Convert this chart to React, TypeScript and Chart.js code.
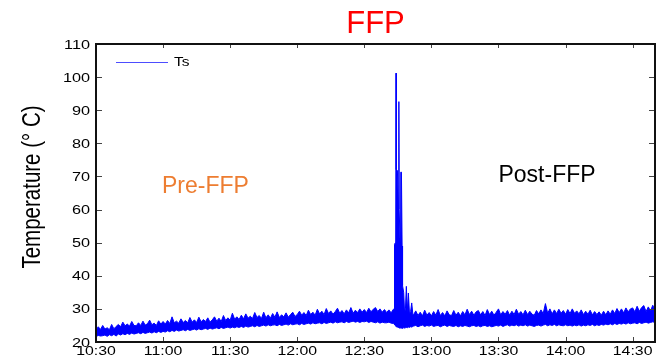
import React, { useEffect, useRef } from 'react';
import { Chart, registerables } from 'chart.js';

Chart.register(...registerables);

// Time axis: minutes since 10:30
const xTickMinutes = [0, 30, 60, 90, 120, 150, 180, 210, 240];
const xTickLabels = ['10:30', '11:00', '11:30', '12:00', '12:30', '13:00', '13:30', '14:00', '14:30'];
const yTickValues = [20, 30, 40, 50, 60, 70, 80, 90, 100, 110];

// Ts band (upper / lower envelope of the dense signal), one sample per minute, 10:30 .. 12:43
const preStartMinute = 0;
const preMax = [
  23.6, 24.6, 23.8, 25.0, 23.9, 24.3, 23.7, 25.3, 24.0, 24.7,
  25.3, 24.6, 26.0, 24.9, 25.4, 24.8, 26.2, 25.0, 24.9, 25.8,
  25.0, 26.3, 25.1, 25.5, 26.6, 25.2, 25.7, 25.0, 26.4, 25.4,
  26.2, 25.4, 26.5, 25.6, 27.6, 25.8, 26.3, 25.7, 27.0, 25.9,
  26.5, 25.8, 27.4, 26.0, 26.7, 25.9, 27.5, 26.1, 26.8, 26.2,
  27.3, 26.0, 26.7, 27.6, 26.3, 27.2, 26.2, 28.0, 26.5, 27.3,
  26.6, 28.7, 26.9, 27.6, 26.8, 28.1, 27.0, 28.5, 27.2, 27.8,
  27.1, 28.9, 27.4, 28.0, 27.1, 29.0, 27.3, 28.2, 27.2, 28.6,
  27.5, 29.1, 27.4, 28.2, 27.6, 28.8, 27.5, 28.3, 29.0, 27.7,
  28.3, 29.3, 28.1, 28.9, 28.0, 29.6, 28.3, 29.0, 28.1, 29.9,
  28.5, 29.3, 28.3, 30.1, 28.6, 29.4, 28.4, 29.2, 30.2, 28.7,
  29.5, 28.5, 29.7, 28.8, 30.4, 28.7, 29.6, 28.9, 30.0, 29.0,
  29.8, 28.9, 30.2, 29.1, 29.9, 30.4, 29.2, 30.0, 29.0, 29.8,
  28.9, 29.7, 28.8, 29.9,
];
const preMin = [
  21.6, 22.0, 21.8, 21.9, 22.1, 21.7, 22.2, 21.9, 22.3, 21.8,
  22.4, 22.1, 22.5, 22.2, 22.6, 22.3, 22.7, 22.4, 22.6, 22.8,
  22.5, 22.9, 22.6, 22.8, 23.0, 22.7, 23.1, 22.8, 23.2, 22.9,
  23.2, 23.0, 23.4, 23.1, 23.5, 23.2, 23.6, 23.3, 23.5, 23.7,
  23.4, 23.8, 23.5, 23.7, 23.9, 23.6, 24.0, 23.7, 23.9, 24.1,
  23.8, 24.2, 23.9, 24.1, 24.3, 24.0, 24.4, 24.1, 24.3, 24.5,
  24.2, 24.5, 24.3, 24.6, 24.4, 24.7, 24.4, 24.8, 24.5, 24.7,
  24.9, 24.6, 25.0, 24.7, 24.9, 25.1, 24.8, 25.2, 24.9, 25.1,
  25.2, 24.9, 25.3, 25.0, 25.2, 25.4, 25.1, 25.5, 25.2, 25.4,
  25.5, 25.2, 25.6, 25.3, 25.5, 25.7, 25.4, 25.8, 25.5, 25.7,
  25.8, 25.5, 25.9, 25.6, 25.8, 26.0, 25.7, 26.1, 25.8, 26.0,
  26.1, 25.8, 26.2, 25.9, 26.1, 26.3, 26.0, 26.2, 25.9, 26.2,
  26.1, 26.3, 25.9, 26.2, 26.0, 25.8, 26.1, 25.7, 26.0, 25.8,
  25.8, 26.0, 25.7, 25.6,
];

// FFP spike, finer sampling
const spikeMinutes = [
  133.3, 133.5, 133.9, 134.1, 134.2, 134.3, 134.8, 135.2, 135.4, 135.5,
  135.6, 136.0, 136.3, 136.6, 136.9, 137.1, 137.6, 138.0, 138.4, 138.8,
  139.2, 139.7, 140.2, 140.7, 141.2, 141.7,
];
const spikeMax = [
  30.0, 49.5, 50.0, 72.0, 101.2, 72.0, 71.8, 60.0, 72.0, 92.6,
  60.0, 50.0, 71.3, 71.3, 49.0, 37.0, 35.0, 29.0, 30.0, 36.8,
  29.0, 34.8, 28.5, 29.2, 31.8, 28.4,
];
const spikeMin = [
  25.5, 25.2, 25.0, 24.8, 24.7, 24.6, 24.5, 24.4, 24.3, 24.3,
  24.2, 24.2, 24.3, 24.2, 24.1, 24.2, 24.3, 24.2, 24.3, 24.4,
  24.3, 24.5, 24.4, 24.6, 24.5, 24.7,
];

// After FFP, one sample per minute, 12:52 .. 14:40
const postStartMinute = 142;
const postMax = [
  28.2, 29.4, 28.0, 29.0, 27.9, 29.6, 28.1, 28.9,
  27.9, 29.2, 28.1, 29.8, 28.0, 28.9, 27.9, 29.4, 28.2, 28.0,
  29.5, 28.1, 29.0, 27.9, 29.2, 28.2, 29.9, 28.3, 29.3, 28.1,
  29.1, 29.5, 28.2, 29.2, 28.0, 29.8, 28.3, 29.3, 28.1, 29.0,
  30.0, 28.2, 29.2, 28.4, 29.5, 28.1, 29.3, 28.3, 29.9, 28.4,
  29.2, 28.2, 29.6, 28.3, 29.3, 28.4, 28.1, 29.5, 28.5, 29.7,
  28.6, 31.6, 28.7, 30.0, 28.5, 29.7, 28.6, 29.9, 28.7, 29.5,
  28.4, 29.8, 28.6, 30.0, 28.7, 29.4, 28.5, 29.7, 28.3, 29.3,
  28.4, 29.6, 28.2, 29.2, 28.3, 29.1, 28.1, 29.3, 28.2, 29.4,
  28.4, 29.7, 28.6, 30.1, 28.9, 30.0, 28.8, 30.3, 29.1, 30.0,
  30.3, 29.1, 30.8, 29.3, 30.4, 31.0, 29.2, 30.6, 29.4, 31.1, 29.6,
];
const postMin = [
  24.8, 25.0, 24.6, 24.9, 25.1, 24.7, 25.0, 24.8,
  25.1, 24.7, 24.9, 25.0, 24.6, 24.9, 25.1, 24.7, 25.0, 24.8,
  24.7, 25.0, 24.6, 24.9, 24.7, 25.0, 24.8, 24.6, 24.9, 25.0,
  24.7, 24.9, 24.6, 24.9, 25.0, 24.7, 24.9, 24.6, 24.8, 25.0,
  24.8, 25.1, 24.7, 25.0, 25.2, 24.8, 25.1, 24.9, 25.2, 24.8,
  25.1, 24.9, 25.2, 24.8, 25.1, 24.9, 24.7, 25.0, 25.1, 24.8,
  25.1, 25.3, 24.9, 25.2, 25.0, 25.3, 24.9, 25.2, 25.0, 24.9,
  25.2, 24.9, 25.1, 24.8, 25.1, 24.9, 25.2, 24.8, 25.1, 24.9,
  25.2, 25.0, 25.3, 24.9, 25.2, 25.0, 25.3, 25.1, 25.4, 25.2,
  25.5, 25.2, 25.6, 25.3, 25.6, 25.4, 25.7, 25.4, 25.8, 25.5,
  25.7, 25.8, 25.5, 25.9, 25.6, 25.8, 26.0, 25.7, 25.9, 26.1, 25.9,
];

const titleText = 'FFP';
const yTitleText = 'Temperature (° C)';
const seriesName = 'Ts';
const preLabel = { text: 'Pre-FFP', minute: 29.5, value: 65.0 };
const postLabel = { text: 'Post-FFP', minute: 180, value: 68.4 };

const FONT = '"Liberation Sans", Arial, Helvetica, sans-serif';

function buildPoints(pre: number[], spike: number[], post: number[]) {
  const pts: { x: number; y: number }[] = [];
  pre.forEach((v, i) => pts.push({ x: preStartMinute + i, y: v }));
  spike.forEach((v, i) => pts.push({ x: spikeMinutes[i], y: v }));
  post.forEach((v, i) => pts.push({ x: postStartMinute + i, y: v }));
  return pts;
}

function stretchedText(
  ctx: CanvasRenderingContext2D,
  s: string,
  x: number,
  y: number,
  font: string,
  color: string,
  align: CanvasTextAlign,
  sx: number
) {
  ctx.save();
  ctx.translate(x, y);
  ctx.scale(sx, 1);
  ctx.font = font;
  ctx.fillStyle = color;
  ctx.textAlign = align;
  ctx.textBaseline = 'alphabetic';
  ctx.fillText(s, 0, 0);
  ctx.restore();
}

const decorPlugin = {
  id: 'decor',
  afterDraw(chart: any) {
    const ctx: CanvasRenderingContext2D = chart.ctx;
    const { left, right, top, bottom } = chart.chartArea;
    const xs = chart.scales.x;
    const ys = chart.scales.y;

    ctx.save();
    // Ticks (inward on all four sides)
    ctx.strokeStyle = '#444';
    ctx.lineWidth = 1;
    ctx.beginPath();
    xTickMinutes.forEach((m) => {
      const px = Math.round(xs.getPixelForValue(m)) + 0.5;
      ctx.moveTo(px, bottom);
      ctx.lineTo(px, bottom - 5);
      ctx.moveTo(px, top);
      ctx.lineTo(px, top + 4);
    });
    yTickValues.forEach((v) => {
      const py = Math.round(ys.getPixelForValue(v)) + 0.5;
      ctx.moveTo(left, py);
      ctx.lineTo(left + 6, py);
      ctx.moveTo(right, py);
      ctx.lineTo(right - 6, py);
    });
    ctx.stroke();

    // Axes box
    ctx.strokeStyle = '#111';
    ctx.lineWidth = 2;
    ctx.strokeRect(left, top, right - left, bottom - top);

    // Tick labels
    xTickMinutes.forEach((m, i) => {
      stretchedText(ctx, xTickLabels[i], xs.getPixelForValue(m), bottom + 13, `13px ${FONT}`, '#000', 'center', 1.22);
    });
    yTickValues.forEach((v) => {
      stretchedText(ctx, String(v), left - 6, ys.getPixelForValue(v) + 4.5, `12.5px ${FONT}`, '#000', 'right', 1.3);
    });

    // Title
    ctx.font = `31px ${FONT}`;
    ctx.fillStyle = '#ff0000';
    ctx.textAlign = 'center';
    ctx.textBaseline = 'alphabetic';
    ctx.fillText(titleText, (left + right) / 2, 33);

    // Y-axis title (rotated, slightly widened)
    ctx.save();
    ctx.translate(33, (top + bottom) / 2 - 6);
    ctx.scale(1.25, 1);
    ctx.rotate(-Math.PI / 2);
    ctx.font = `20.5px ${FONT}`;
    ctx.fillStyle = '#000';
    ctx.textAlign = 'center';
    ctx.textBaseline = 'middle';
    ctx.fillText(yTitleText, 0, 0);
    ctx.restore();

    // Annotations
    ctx.font = `23px ${FONT}`;
    ctx.textAlign = 'left';
    ctx.textBaseline = 'alphabetic';
    ctx.fillStyle = '#ED7D31';
    ctx.fillText(preLabel.text, xs.getPixelForValue(preLabel.minute), ys.getPixelForValue(preLabel.value));
    ctx.fillStyle = '#000';
    ctx.fillText(postLabel.text, xs.getPixelForValue(postLabel.minute), ys.getPixelForValue(postLabel.value));

    // Legend
    ctx.strokeStyle = '#4d4dff';
    ctx.lineWidth = 1;
    ctx.beginPath();
    ctx.moveTo(left + 20, top + 18.5);
    ctx.lineTo(left + 72, top + 18.5);
    ctx.stroke();
    stretchedText(ctx, seriesName, left + 78, top + 22, `13.5px ${FONT}`, '#000', 'left', 1.15);

    ctx.restore();
  },
};

export default function App() {
  const canvasRef = useRef<HTMLCanvasElement | null>(null);

  useEffect(() => {
    const canvas = canvasRef.current;
    if (!canvas) return;
    const upper = buildPoints(preMax, spikeMax, postMax);
    const lower = buildPoints(preMin, spikeMin, postMin);

    const chart = new Chart(canvas, {
      type: 'line',
      data: {
        datasets: [
          {
            label: seriesName,
            data: upper,
            borderColor: '#0000ff',
            backgroundColor: '#0000ff',
            borderWidth: 1,
            pointRadius: 0,
            tension: 0,
            fill: false,
          },
          {
            label: seriesName + ' (min)',
            data: lower,
            borderColor: '#0000ff',
            backgroundColor: '#0000ff',
            borderWidth: 1,
            pointRadius: 0,
            tension: 0,
            fill: '-1',
          },
        ],
      },
      options: {
        animation: false,
        responsive: false,
        maintainAspectRatio: false,
        devicePixelRatio: 1,
        layout: { padding: { top: 44, right: 5, left: 0, bottom: 0 } },
        plugins: { legend: { display: false }, tooltip: { enabled: false }, title: { display: false } },
        scales: {
          x: {
            type: 'linear',
            min: 0,
            max: 250,
            grid: { display: false },
            border: { display: false },
            ticks: { display: false, stepSize: 30 },
            afterFit: (s: any) => {
              s.height = 17;
            },
          },
          y: {
            type: 'linear',
            min: 20,
            max: 110,
            grid: { display: false },
            border: { display: false },
            ticks: { display: false, stepSize: 10 },
            afterFit: (s: any) => {
              s.width = 96;
            },
          },
        },
      },
      plugins: [decorPlugin],
    });
    return () => chart.destroy();
  }, []);

  return (
    <div style={{ position: 'fixed', left: 0, top: 0, width: 660, height: 359, background: '#fff' }}>
      <canvas ref={canvasRef} width={660} height={359} />
    </div>
  );
}
